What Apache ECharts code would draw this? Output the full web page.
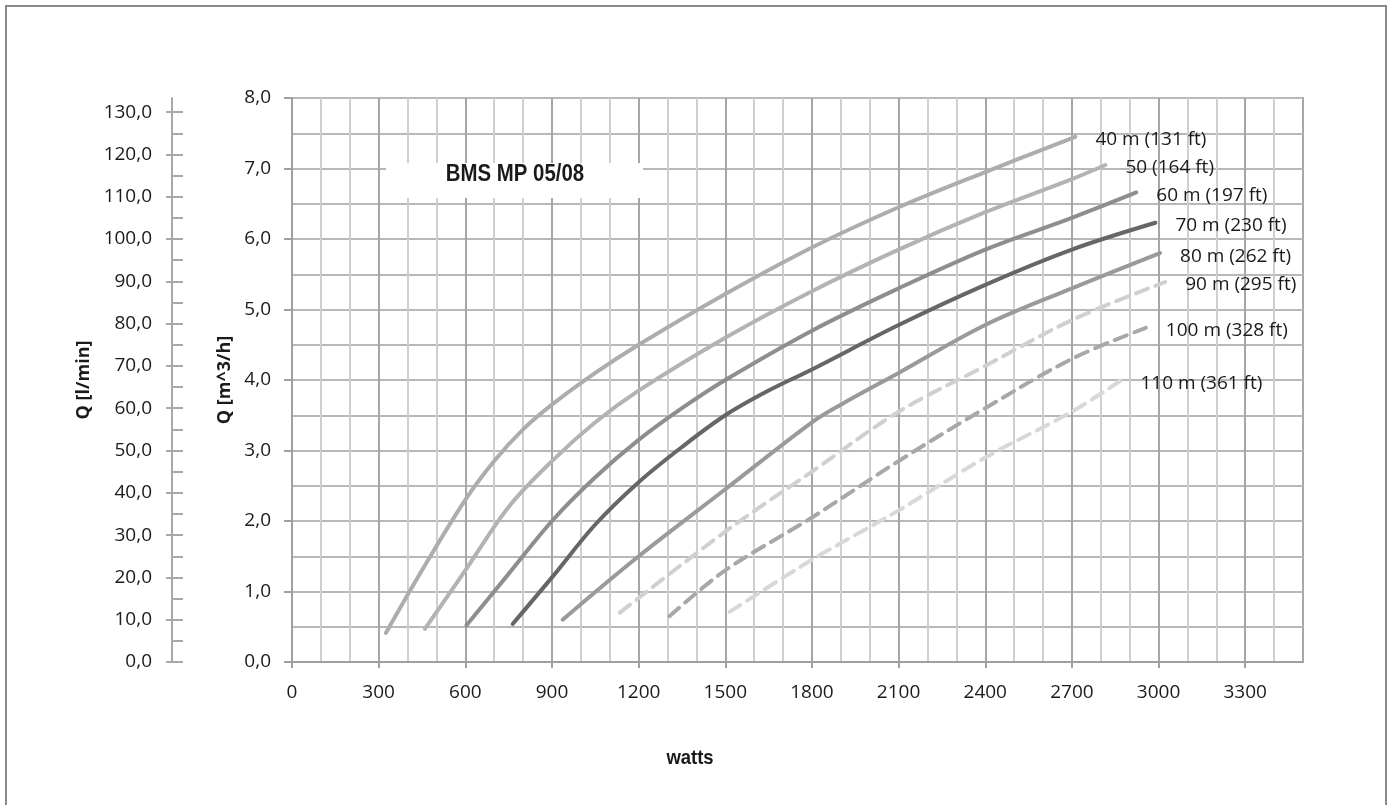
<!DOCTYPE html>
<html><head><meta charset="utf-8">
<script src="https://cdn.jsdelivr.net/npm/echarts@6/dist/echarts.min.js"></script>
<style>html,body{margin:0;padding:0;background:#fff}#c{width:1391px;height:805px}</style>
</head><body><div id="c"></div>
<script>
// tick labels
const xTicks = [0, 300, 600, 900, 1200, 1500, 1800, 2100, 2400, 2700, 3000, 3300];
const lminTicks = [0, 10, 20, 30, 40, 50, 60, 70, 80, 90, 100, 110, 120, 130];
const lminMinorTicks = [5, 15, 25, 35, 45, 55, 65, 75, 85, 95, 105, 115, 125];

// series: watts / flow (m^3/h)
const seriesNames = ['40 m (131 ft)', '50 (164 ft)', '60 m (197 ft)', '70 m (230 ft)', '80 m (262 ft)', '90 m (295 ft)', '100 m (328 ft)', '110 m (361 ft)'];
const watts40 = [325, 450, 600, 700, 800, 900, 1050, 1200, 1500, 1800, 2100, 2400, 2712];
const flow40  = [0.41, 1.3, 2.3, 2.85, 3.3, 3.65, 4.1, 4.5, 5.22, 5.88, 6.45, 6.95, 7.45];
const watts50 = [460, 600, 750, 900, 1050, 1200, 1500, 1800, 2100, 2400, 2700, 2816];
const flow50  = [0.47, 1.3, 2.2, 2.85, 3.4, 3.85, 4.6, 5.26, 5.85, 6.38, 6.85, 7.05];
const watts60 = [604, 750, 900, 1050, 1200, 1350, 1500, 1800, 2100, 2400, 2700, 2923];
const flow60  = [0.52, 1.25, 2.0, 2.62, 3.15, 3.6, 4.0, 4.7, 5.3, 5.85, 6.3, 6.66];
const watts70 = [764, 900, 1050, 1200, 1350, 1500, 1650, 1800, 2100, 2400, 2700, 2989];
const flow70  = [0.54, 1.2, 1.95, 2.55, 3.05, 3.5, 3.85, 4.15, 4.78, 5.35, 5.85, 6.23];
const watts80 = [937, 1200, 1500, 1800, 1900, 2100, 2400, 2700, 3005];
const flow80  = [0.6, 1.5, 2.45, 3.4, 3.65, 4.1, 4.78, 5.3, 5.8];
const watts90 = [1135, 1500, 1800, 2100, 2400, 2700, 3023];
const flow90  = [0.7, 1.85, 2.7, 3.55, 4.2, 4.85, 5.39];
const watts100 = [1307, 1500, 1800, 2100, 2400, 2700, 2956];
const flow100  = [0.65, 1.3, 2.05, 2.85, 3.6, 4.3, 4.74];
const watts110 = [1515, 1800, 2100, 2400, 2700, 2868];
const flow110  = [0.71, 1.45, 2.15, 2.9, 3.55, 3.99];

const allWatts = [watts40, watts50, watts60, watts70, watts80, watts90, watts100, watts110];
const allFlow = [flow40, flow50, flow60, flow70, flow80, flow90, flow100, flow110];
const colors = ['#adadad', '#b3b3b3', '#8e8e8e', '#666666', '#9a9a9a', '#d0d0d0', '#a8a8a8', '#d8d8d8'];
const dashed = [false, false, false, false, false, true, true, true];

const FONT = '"Open Sans", "DejaVu Sans", sans-serif';
const BOLDF = '"Liberation Sans", Arial, sans-serif';
const comma = v => v.toFixed(1).replace('.', ',');

const series = seriesNames.map((name, i) => ({
  name: name,
  type: 'line',
  xAxisIndex: 0,
  yAxisIndex: 0,
  smooth: 0.35,
  showSymbol: false,
  silent: true,
  data: allWatts[i].map((w, k) => [w, allFlow[i][k]]),
  lineStyle: { width: 4, color: colors[i], type: dashed[i] ? [13, 8] : 'solid', cap: 'round' },
  endLabel: {
    show: true, formatter: name, distance: 20, offset: [0, 3],
    color: '#1a1a1a', fontSize: 19, fontFamily: FONT
  },
  z: 3
}));

const chart = echarts.init(document.getElementById('c'), null, { renderer: 'canvas' });
chart.setOption({
  animation: false,
  backgroundColor: '#ffffff',
  grid: { left: 292, right: 88, top: 98, bottom: 143, show: true, borderColor: '#a8a8a8', borderWidth: 2 },
  xAxis: {
    type: 'value', min: 0, max: 3500, interval: 300,
    axisLine: { show: true, lineStyle: { color: '#a0a0a0', width: 2 } },
    axisTick: { show: true, length: 6, customValues: xTicks, lineStyle: { color: '#a0a0a0', width: 2 } },
    axisLabel: { customValues: xTicks, margin: 21, color: '#1a1a1a', fontSize: 19, fontFamily: FONT, formatter: v => String(v) },
    splitLine: { show: true, lineStyle: { color: '#a6a6a6', width: 2 } },
    minorTick: { show: false, splitNumber: 3 },
    minorSplitLine: { show: true, lineStyle: { color: '#cfcfcf', width: 2 } }
  },
  yAxis: [
    {
      type: 'value', min: 0, max: 8, interval: 1, position: 'left',
      axisLine: { show: true, lineStyle: { color: '#a0a0a0', width: 2 } },
      axisTick: { show: true, length: 8, lineStyle: { color: '#a0a0a0', width: 2 } },
      axisLabel: { margin: 21, color: '#1a1a1a', fontSize: 19, fontFamily: FONT, formatter: comma },
      splitLine: { show: true, lineStyle: { color: '#b8b8b8', width: 2 } },
      minorTick: { show: false, splitNumber: 2 },
      minorSplitLine: { show: true, lineStyle: { color: '#b8b8b8', width: 2 } },
      name: 'Q [m^3/h]', nameLocation: 'middle', nameGap: 57, nameRotate: 90,
      nameTextStyle: { fontWeight: 'bold', fontSize: 18, color: '#1a1a1a', fontFamily: FONT }
    },
    {
      type: 'value', min: 0, max: 400 / 3, interval: 10, position: 'left', offset: 120,
      axisLine: { show: true, lineStyle: { color: '#a8a8a8', width: 2 } },
      axisTick: { show: true, length: 6, customValues: lminTicks, lineStyle: { color: '#a8a8a8', width: 2 } },
      axisLabel: { customValues: lminTicks, margin: 20, color: '#1a1a1a', fontSize: 19, fontFamily: FONT, formatter: comma },
      splitLine: { show: false },
      name: 'Q [l/min]', nameLocation: 'middle', nameGap: 75, nameRotate: 90,
      nameTextStyle: { fontWeight: 'bold', fontSize: 18, color: '#1a1a1a', fontFamily: FONT }
    },
    {
      type: 'value', min: 0, max: 400 / 3, interval: 5, position: 'left', offset: 120,
      axisLine: { show: false },
      axisTick: { show: true, inside: true, length: 11, customValues: lminTicks.concat(lminMinorTicks), lineStyle: { color: '#a8a8a8', width: 2 } },
      axisLabel: { show: false },
      splitLine: { show: false }
    }
  ],
  graphic: [
    { type: 'rect', z: -10, shape: { x: 6, y: 6, width: 1380, height: 830 }, style: { fill: 'none', stroke: '#8a8a8a', lineWidth: 2 } },
    { type: 'rect', z: 100, shape: { x: 386, y: 163, width: 257, height: 35 }, style: { fill: '#ffffff' } },
    { type: 'text', z: 101, x: 515, y: 174, scaleX: 0.85, style: { text: 'BMS MP 05/08', x: 0, y: 0, align: 'center', verticalAlign: 'middle', font: 'bold 24px ' + BOLDF, fill: '#1a1a1a' } },
    { type: 'text', z: 101, x: 690, y: 758, scaleX: 0.88, style: { text: 'watts', x: 0, y: 0, align: 'center', verticalAlign: 'middle', font: 'bold 21px ' + BOLDF, fill: '#1a1a1a' } }
  ],
  series: series
});
</script></body></html>
